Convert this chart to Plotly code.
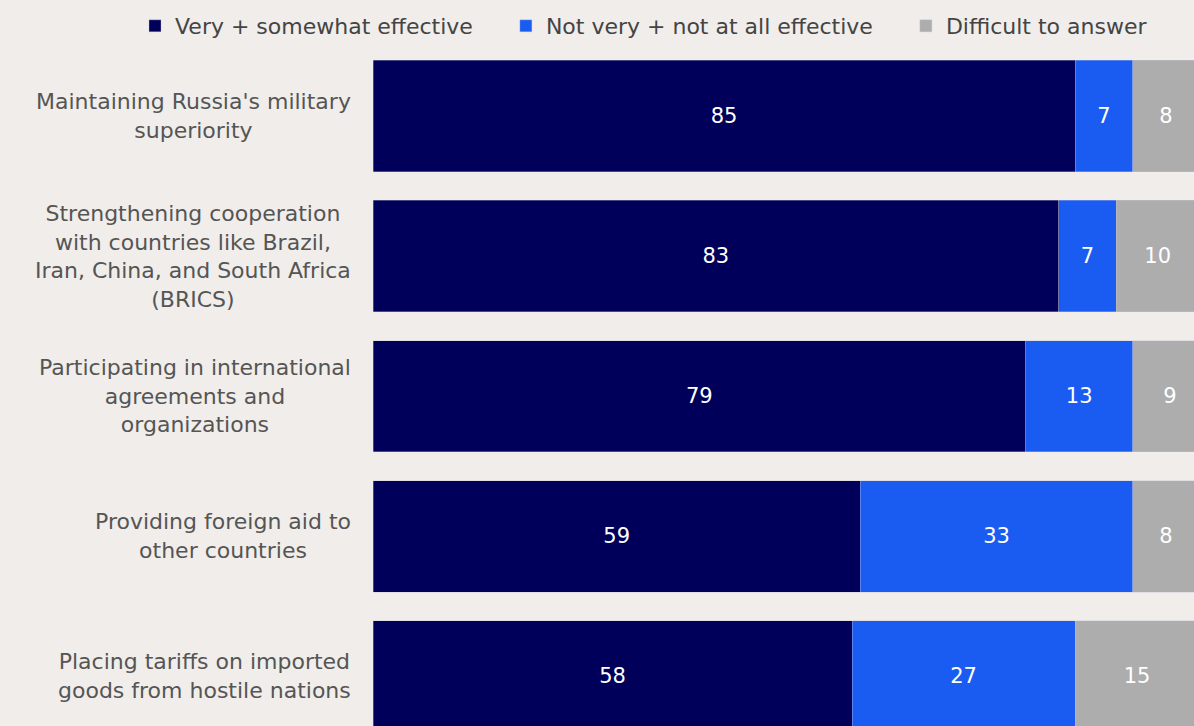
import plotly.graph_objects as go

categories = [
    "Maintaining Russia's military<br>superiority",
    "Strengthening cooperation<br>with countries like Brazil,<br>Iran, China, and South Africa<br>(BRICS)",
    "Participating in international<br>agreements and<br>organizations",
    "Providing foreign aid to<br>other countries",
    "Placing tariffs on imported<br>goods from hostile nations",
]
series_names = ["Very + somewhat effective", "Not very + not at all effective", "Difficult to answer"]
effective = [85, 83, 79, 59, 58]
not_effective = [7, 7, 13, 33, 27]
difficult = [8, 10, 9, 8, 15]
colors = ["#00005a", "#1a5cf2", "#adadad"]

FONT = "DejaVu Sans"
bg = "#f0edea"
ypos = list(range(len(categories)))
NB = "\u00a0" * 4
legend_labels = [series_names[0] + NB, series_names[1] + NB, series_names[2]]

fig = go.Figure()
for name, vals, col in zip(legend_labels, [effective, not_effective, difficult], colors):
    fig.add_trace(go.Bar(
        y=ypos, x=vals, name=name, orientation="h",
        marker=dict(color=col, line=dict(color="rgba(200,200,215,0.6)", width=0.6)),
        text=[str(v) for v in vals], textposition="inside", insidetextanchor="middle",
        textangle=0, constraintext="none",
        textfont=dict(color="white", size=21, family=FONT),
        hoverinfo="skip",
    ))

for i, c in enumerate(categories):
    fig.add_annotation(
        x=0, xref="paper", y=i, yref="y", xanchor="right", xshift=-20,
        text=c, showarrow=False, align="center",
        font=dict(family=FONT, size=22, color="#555555"),
    )

fig.update_layout(
    barmode="stack", bargap=0.205,
    width=1194, height=726,
    paper_bgcolor=bg, plot_bgcolor=bg,
    margin=dict(l=373, r=0, t=46, b=0, autoexpand=False),
    font=dict(family=FONT, color="#444444"),
    legend=dict(orientation="h", xref="paper", yref="paper",
                x=(135 - 373) / 821, xanchor="left", y=1 + 20 / 680, yanchor="middle",
                font=dict(size=22, color="#444444", family=FONT),
                bgcolor="rgba(0,0,0,0)", traceorder="normal"),
    xaxis=dict(range=[0, 99.4], visible=False, fixedrange=True),
    yaxis=dict(range=[4.354, -0.5], visible=False, fixedrange=True),
)
fig.write_html("out.html", config={"displayModeBar": False},
               post_script="document.body.style.margin='0';document.body.style.overflow='hidden';")
